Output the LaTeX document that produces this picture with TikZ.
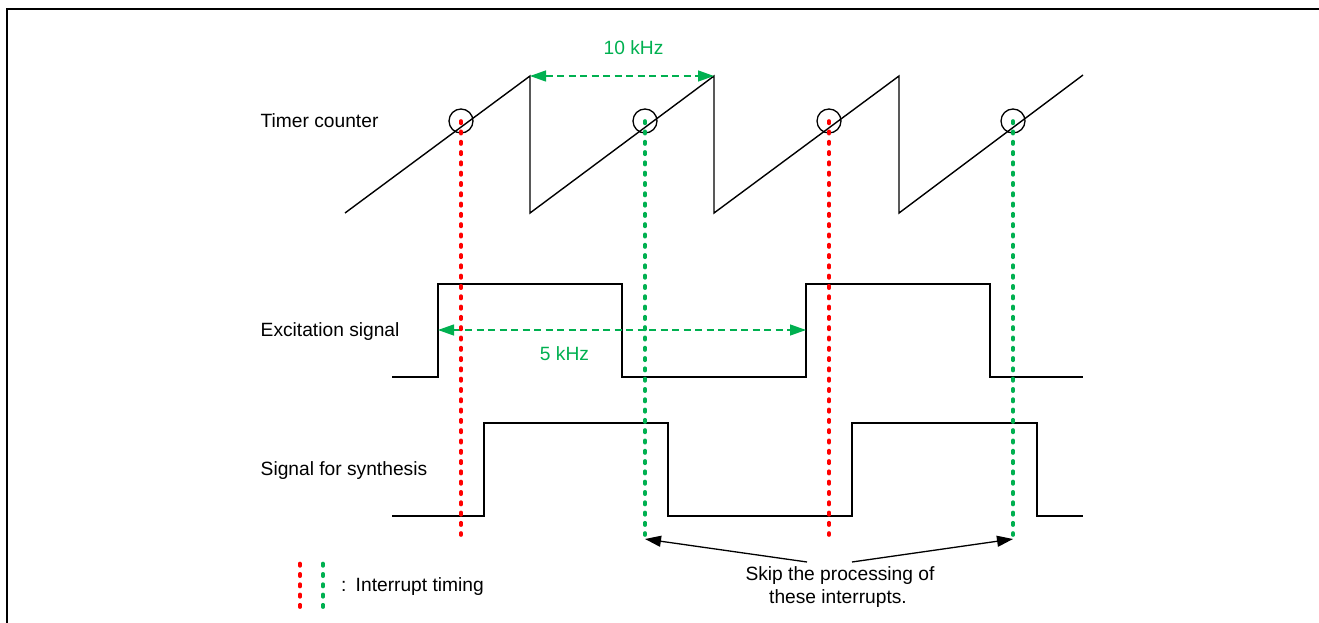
\documentclass[tikz,border=0pt]{standalone}
\usepackage{fontspec}
\setmainfont{Liberation Sans}
\usetikzlibrary{arrows.meta}
\definecolor{irqred}{RGB}{255,0,0}
\definecolor{irqgreen}{RGB}{0,176,80}

\begin{document}
\begin{tikzpicture}[x=1pt,y=-1pt,
  wave/.style={line width=1.4pt, line join=miter},
  ring/.style={circle, draw, line width=1.3pt, minimum size=24pt, inner sep=0pt},
  irq/.style={line width=3.6pt, line cap=round, dash pattern=on 2.4pt off 7.9pt},
  freq/.style={irqgreen, line width=1.3pt, dash pattern=on 7pt off 4.5pt,
    {Triangle[length=16pt,width=11pt]}-{Triangle[length=16pt,width=11pt]}},
  note/.style={line width=1.3pt, -{Triangle[length=16pt,width=11pt]}},
  txt/.style={font=\fontsize{19.2pt}{23pt}\selectfont, inner sep=0pt},
  lbl/.style={txt, anchor=base west}]

\useasboundingbox (0,0) rectangle (1319,623);

% frame
\draw[line width=2pt, line join=miter] (7,623) -- (7,9) -- (1319,9);

% row labels
\node[lbl] (tc) at (260.5,127.7) {Timer counter};
\node[lbl] (ex) at (260.5,336) {Excitation signal};
\node[lbl] (sy) at (260.5,475.5) {Signal for synthesis};

% timer counter sawtooth
\coordinate (p1) at (530,76);
\coordinate (p2) at (714,76);
\draw[wave] (345,213) -- (p1) -- (530,213) -- (p2) -- (714,213)
  -- (899,76) -- (899,213) -- (1083,75);

% excitation signal
\coordinate (e1) at (438,330);
\coordinate (e2) at (806,330);
\draw[wave] (392,377) -- (438,377) -- (438,284) -- (622,284) -- (622,377)
  -- (806,377) -- (806,284) -- (990,284) -- (990,377) -- (1083,377);

% signal for synthesis
\draw[wave] (392,516) -- (484,516) -- (484,423) -- (668,423) -- (668,516)
  -- (852,516) -- (852,423) -- (1037,423) -- (1037,516) -- (1083,516);

% frequency markers
\draw[freq] (p1) -- (p2);
\node[txt, anchor=base, text=irqgreen] (f10) at (633.5,55) {10 kHz};
\draw[freq] (e1) -- (e2);
\node[txt, anchor=base, text=irqgreen] (f5) at (564.5,360) {5 kHz};

% interrupt points
\node[ring] (c1) at (461,121) {};
\node[ring] (c2) at (645,121) {};
\node[ring] (c3) at (829,121) {};
\node[ring] (c4) at (1013,121) {};
\coordinate (b1) at (461,535);
\coordinate (b2) at (645,535);
\coordinate (b3) at (829,535);
\coordinate (b4) at (1013,535);
\draw[irq, irqred]   (c1.center) -- (b1);
\draw[irq, irqgreen] (c2.center) -- (b2);
\draw[irq, irqred]   (c3.center) -- (b3);
\draw[irq, irqgreen] (c4.center) -- (b4);

% skipped interrupts note
\node[txt, anchor=base] (skipA) at (840,580) {Skip the processing of};
\node[txt, anchor=base] (skipB) at (838,603.3) {these interrupts.};
\coordinate (sa) at (807,562);
\coordinate (sb) at (852,562);
\coordinate (t1) at (645,539);
\coordinate (t2) at (1013,539);
\draw[note] (sa) -- (t1);
\draw[note] (sb) -- (t2);

% legend
\coordinate (lr1) at (300,563.5);
\coordinate (lr2) at (300,607.5);
\coordinate (lg1) at (323,563.5);
\coordinate (lg2) at (323,607.5);
\draw[irq, irqred]   (lr1) -- (lr2);
\draw[irq, irqgreen] (lg1) -- (lg2);
\node[lbl] (leg) at (341,591.7) {:\hspace{9.2pt}Interrupt timing};
\end{tikzpicture}
\end{document}
